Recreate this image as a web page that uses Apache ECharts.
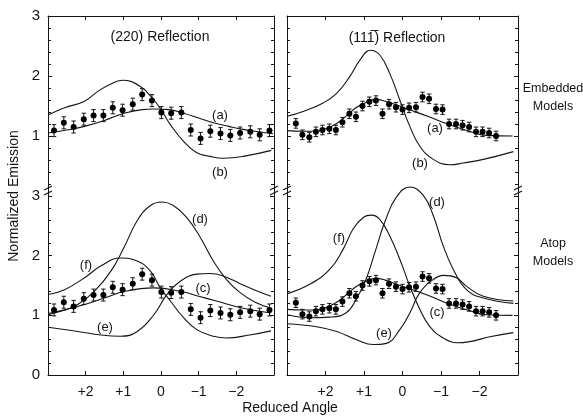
<!DOCTYPE html>
<html>
<head>
<meta charset="utf-8">
<script src="https://cdn.jsdelivr.net/npm/echarts@6/dist/echarts.min.js"></script>
<style>
html,body{margin:0;padding:0;background:#fff;}
#chart{width:583px;height:417px;}
</style>
</head>
<body>
<div id="chart"></div>
<script>
// ---------- DATA ----------
// measured points, (220) reflection
const angles220 = [2.84, 2.58, 2.32, 2.05, 1.79, 1.53, 1.28, 1.02, 0.75, 0.50, 0.24, -0.01, -0.27, -0.54, -0.79, -1.05, -1.31, -1.58, -1.84, -2.10, -2.37, -2.62, -2.88];
const emission220 = [1.09, 1.22, 1.15, 1.28, 1.34, 1.34, 1.47, 1.43, 1.53, 1.69, 1.59, 1.39, 1.38, 1.39, 1.10, 0.96, 1.08, 1.04, 1.01, 1.05, 1.07, 1.02, 1.09];
const error220 = [0.1, 0.1, 0.1, 0.1, 0.1, 0.1, 0.1, 0.1, 0.1, 0.1, 0.1, 0.1, 0.1, 0.1, 0.1, 0.1, 0.1, 0.1, 0.1, 0.1, 0.1, 0.1, 0.1];
// measured points, (11-1) reflection
const angles111 = [2.77, 2.60, 2.42, 2.25, 2.08, 1.90, 1.73, 1.56, 1.38, 1.21, 1.04, 0.86, 0.69, 0.52, 0.35, 0.17, 0.00, -0.17, -0.35, -0.52, -0.69, -0.87, -1.04, -1.21, -1.39, -1.56, -1.73, -1.91, -2.08, -2.25, -2.43];
const emission111 = [1.21, 1.02, 0.98, 1.07, 1.10, 1.12, 1.10, 1.23, 1.37, 1.32, 1.50, 1.57, 1.59, 1.37, 1.53, 1.48, 1.44, 1.47, 1.48, 1.65, 1.62, 1.45, 1.44, 1.20, 1.20, 1.18, 1.15, 1.07, 1.07, 1.05, 1.00];
const error111 = [0.08, 0.08, 0.08, 0.08, 0.08, 0.08, 0.08, 0.08, 0.08, 0.08, 0.08, 0.08, 0.08, 0.08, 0.08, 0.08, 0.08, 0.08, 0.08, 0.08, 0.08, 0.08, 0.08, 0.08, 0.08, 0.08, 0.08, 0.08, 0.08, 0.08, 0.08];

// model curves [angle, emission]
const model220a = [[3.0,1.05],[2.5,1.10],[2.03,1.16],[1.5,1.26],[0.98,1.38],[0.5,1.44],[0.19,1.45],[-0.2,1.44],[-0.6,1.38],[-1.0,1.30],[-1.39,1.22],[-1.8,1.16],[-2.18,1.11],[-2.6,1.07],[-2.97,1.04]];
const model220b = [[3.0,1.35],[2.56,1.47],[2.03,1.58],[1.64,1.76],[1.29,1.88],[1.02,1.93],[0.54,1.82],[0.19,1.60],[0.0,1.44],[-0.25,1.19],[-0.6,0.91],[-0.95,0.72],[-1.3,0.66],[-1.65,0.63],[-2.18,0.66],[-2.93,0.76]];
const model220c = [[3.0,1.03],[2.5,1.10],[2.03,1.18],[1.5,1.29],[0.98,1.40],[0.19,1.46],[-0.6,1.39],[-1.0,1.32],[-1.47,1.24],[-2.18,1.12],[-2.92,1.04]];
const model220d = [[3.0,1.01],[2.6,1.08],[2.21,1.18],[1.77,1.40],[1.33,1.74],[0.98,2.14],[0.63,2.59],[0.28,2.84],[-0.03,2.90],[-0.33,2.84],[-0.68,2.64],[-1.04,2.31],[-1.39,1.91],[-1.74,1.60],[-2.1,1.38],[-2.5,1.22],[-2.92,1.12]];
const model220e = [[3.0,0.80],[2.21,0.73],[1.59,0.67],[1.07,0.65],[0.63,0.73],[0.19,1.01],[-0.16,1.35],[-0.51,1.57],[-0.95,1.69],[-1.30,1.70],[-1.65,1.66],[-2.1,1.53],[-2.5,1.42],[-2.92,1.32]];
const model220f = [[3.0,1.35],[2.56,1.43],[2.03,1.63],[1.59,1.83],[1.07,1.96],[0.63,1.91],[0.28,1.74],[0.02,1.46],[-0.25,1.24],[-0.60,0.96],[-0.95,0.76],[-1.39,0.65],[-1.74,0.62],[-2.35,0.67],[-2.92,0.74]];

const model111a = [[3.0,1.09],[2.6,1.08],[2.25,1.08],[2.0,1.12],[1.73,1.20],[1.45,1.34],[1.21,1.47],[0.95,1.56],[0.69,1.61],[0.45,1.58],[0.17,1.52],[-0.17,1.44],[-0.69,1.32],[-1.21,1.19],[-1.73,1.08],[-2.17,1.01],[-2.86,1.00]];
const model111b = [[3.0,1.33],[2.58,1.41],[2.06,1.55],[1.71,1.71],[1.37,1.99],[1.11,2.26],[0.83,2.43],[0.59,2.35],[0.33,2.04],[0.07,1.60],[-0.19,1.16],[-0.45,0.83],[-0.80,0.61],[-1.23,0.52],[-1.58,0.55],[-2.10,0.61],[-2.88,0.74]];
const model111c = [[3.0,1.10],[2.6,1.09],[2.25,1.09],[2.0,1.13],[1.73,1.21],[1.45,1.35],[1.21,1.48],[0.95,1.57],[0.69,1.62],[0.45,1.59],[0.17,1.52],[-0.17,1.45],[-0.69,1.33],[-1.21,1.19],[-1.73,1.08],[-2.17,1.01],[-2.86,1.00]];
const model111d = [[3.0,1.01],[2.4,0.96],[1.9,0.97],[1.47,1.04],[1.21,1.26],[0.95,1.60],[0.69,2.11],[0.45,2.58],[0.16,2.98],[-0.19,3.15],[-0.54,3.01],[-0.80,2.67],[-1.06,2.16],[-1.32,1.77],[-1.66,1.43],[-2.10,1.29],[-2.88,1.20]];
const model111e = [[3.0,0.86],[2.23,0.81],[1.71,0.73],[1.19,0.59],[0.76,0.51],[0.42,0.53],[0.07,0.76],[-0.19,1.04],[-0.45,1.38],[-0.80,1.60],[-1.06,1.67],[-1.40,1.63],[-1.66,1.49],[-2.10,1.32],[-2.88,1.24]];
const model111f = [[3.0,1.36],[2.41,1.52],[1.89,1.77],[1.54,2.11],[1.28,2.45],[1.02,2.64],[0.81,2.68],[0.59,2.61],[0.33,2.33],[0.07,1.94],[-0.19,1.49],[-0.45,1.10],[-0.71,0.81],[-1.06,0.62],[-1.40,0.54],[-1.75,0.56],[-2.27,0.64],[-2.88,0.71]];

const xTicks = [2, 1, 0, -1, -2];
const yTicks = [0, 1, 2, 3];

// ---------- LAYOUT ----------
const INK = '#141414';
const FONT = 'Liberation Sans, DejaVu Sans, sans-serif';
const grids = [
  {left: 48, top: 16, width: 226, height: 180},   // 0 TL
  {left: 287, top: 16, width: 231, height: 180},  // 1 TR
  {left: 48, top: 196, width: 226, height: 179},  // 2 BL
  {left: 287, top: 196, width: 231, height: 179}  // 3 BR
];

function fmtX(v) {
  if (xTicks.indexOf(v) < 0) return '';
  if (v > 0) return '+' + v;
  if (v < 0) return '\u2212' + Math.abs(v);
  return '0';
}

const xAxes = [], yAxes = [];
grids.forEach((g, i) => {
  const isTop = i < 2;
  const isLeft = (i % 2) === 0;
  xAxes.push({
    gridIndex: i, type: 'value', min: -3, max: 3, interval: 1, inverse: true,
    position: isTop ? 'top' : 'bottom',
    axisLine: {show: true, onZero: false, lineStyle: {color: INK, width: 1}},
    axisTick: {show: true, inside: true, length: 4, lineStyle: {color: INK}},
    axisLabel: {show: !isTop, formatter: fmtX, showMinLabel: false, showMaxLabel: false,
      margin: 10, fontSize: 14, fontFamily: FONT, color: INK},
    splitLine: {show: false}
  });
  yAxes.push({
    gridIndex: i, type: 'value', min: 0, max: 3, interval: 1, position: 'left',
    axisLine: {show: true, onZero: false, lineStyle: {color: INK, width: 1}},
    axisTick: {show: true, inside: true, length: 4, lineStyle: {color: INK}},
    minorTick: {show: true, splitNumber: 5, length: 3, lineStyle: {color: INK}},
    axisLabel: {show: isLeft, showMinLabel: !isTop, margin: 8, fontSize: 15, fontFamily: FONT, color: INK,
      formatter: v => (yTicks.indexOf(v) >= 0 ? String(v) : '')},
    splitLine: {show: false}, minorSplitLine: {show: false}
  });
});
grids.forEach((g, i) => {
  yAxes.push({
    gridIndex: i, type: 'value', min: 0, max: 3, interval: 1, position: 'right',
    axisLine: {show: true, onZero: false, lineStyle: {color: INK, width: 1}},
    axisTick: {show: true, inside: true, length: 4, lineStyle: {color: INK}},
    minorTick: {show: true, splitNumber: 5, length: 3, lineStyle: {color: INK}},
    axisLabel: {show: false}, splitLine: {show: false}, minorSplitLine: {show: false}
  });
});

function curve(data, gi, clip) {
  return {
    type: 'line', xAxisIndex: gi, yAxisIndex: gi, data: data, smooth: 0.45,
    showSymbol: false, symbol: 'none', clip: clip !== false, silent: true,
    lineStyle: {color: INK, width: 1.1}, z: 2
  };
}
function points(xs, ys, gi) {
  return {
    type: 'scatter', xAxisIndex: gi, yAxisIndex: gi,
    data: xs.map((x, k) => [x, ys[k]]),
    symbol: 'circle', symbolSize: 6, itemStyle: {color: '#000', opacity: 1}, z: 4, silent: true
  };
}
function errorBars(xs, ys, es, gi) {
  return {
    type: 'custom', xAxisIndex: gi, yAxisIndex: gi, silent: true, z: 3,
    data: xs.map((x, k) => [x, ys[k], es[k]]),
    renderItem: function (params, api) {
      const x = api.value(0), y = api.value(1), e = api.value(2);
      const hi = api.coord([x, y + e]);
      const lo = api.coord([x, y - e]);
      const c = 2.2;
      const st = {stroke: INK, lineWidth: 1};
      return {type: 'group', children: [
        {type: 'line', shape: {x1: hi[0], y1: hi[1], x2: lo[0], y2: lo[1]}, style: st},
        {type: 'line', shape: {x1: hi[0] - c, y1: hi[1], x2: hi[0] + c, y2: hi[1]}, style: st},
        {type: 'line', shape: {x1: lo[0] - c, y1: lo[1], x2: lo[0] + c, y2: lo[1]}, style: st}
      ]};
    }
  };
}

const series = [
  curve(model220a, 0), curve(model220b, 0),
  errorBars(angles220, emission220, error220, 0), points(angles220, emission220, 0),
  curve(model111a, 1), curve(model111b, 1),
  errorBars(angles111, emission111, error111, 1), points(angles111, emission111, 1),
  curve(model220c, 2), curve(model220d, 2), curve(model220e, 2), curve(model220f, 2),
  errorBars(angles220, emission220, error220, 2), points(angles220, emission220, 2),
  curve(model111c, 3), curve(model111d, 3, false), curve(model111e, 3), curve(model111f, 3),
  errorBars(angles111, emission111, error111, 3), points(angles111, emission111, 3)
];

// ---------- ANNOTATIONS ----------
function txt(text, x, y, size) {
  return {
    type: 'text', silent: true, z: 10,
    style: {text: text, x: x, y: y, align: 'center', verticalAlign: 'middle',
      fontSize: size, fontFamily: FONT, fill: INK}
  };
}
const graphics = [
  txt('(220) Reflection', 160, 37, 14),
  txt('(11\u0031\u0305) Reflection', 397, 38, 14),
  txt('Embedded', 553, 89, 12.5),
  txt('Models', 553, 107, 12.5),
  txt('Atop', 553, 244, 12.5),
  txt('Models', 553, 262, 12.5),
  txt('Reduced Angle', 290, 408, 14),
  {type: 'text', silent: true, x: 14, y: 196, rotation: Math.PI / 2,
    style: {text: 'Normalized Emission', x: 0, y: 0, align: 'center', verticalAlign: 'middle',
      fontSize: 14, fontFamily: FONT, fill: INK}},
  txt('(a)', 220, 115, 13), txt('(b)', 220, 172, 13),
  txt('(a)', 435, 128, 13), txt('(b)', 420, 163, 13),
  txt('(d)', 200, 219, 13), txt('(f)', 86, 265, 13), txt('(c)', 203, 288, 13), txt('(e)', 105, 327, 13),
  txt('(d)', 437, 202, 13), txt('(f)', 339, 238, 13), txt('(c)', 437, 312, 13), txt('(e)', 384, 333, 13)
];
grids.forEach(g => {
  if (g.top !== 16) return;
  [g.left, g.left + g.width].forEach(ax => {
    const yb = g.top + g.height;
    [yb - 8, yb - 3].forEach(yy => {
      graphics.push({type: 'line', silent: true, z: 10,
        shape: {x1: ax - 4, y1: yy + 2, x2: ax + 4, y2: yy - 2},
        style: {stroke: INK, lineWidth: 1.2}});
    });
  });
});

const chart = echarts.init(document.getElementById('chart'), null, {renderer: 'canvas'});
chart.setOption({
  backgroundColor: '#ffffff',
  animation: false,
  grid: grids,
  xAxis: xAxes,
  yAxis: yAxes,
  series: series,
  graphic: graphics
});
</script>
</body>
</html>
